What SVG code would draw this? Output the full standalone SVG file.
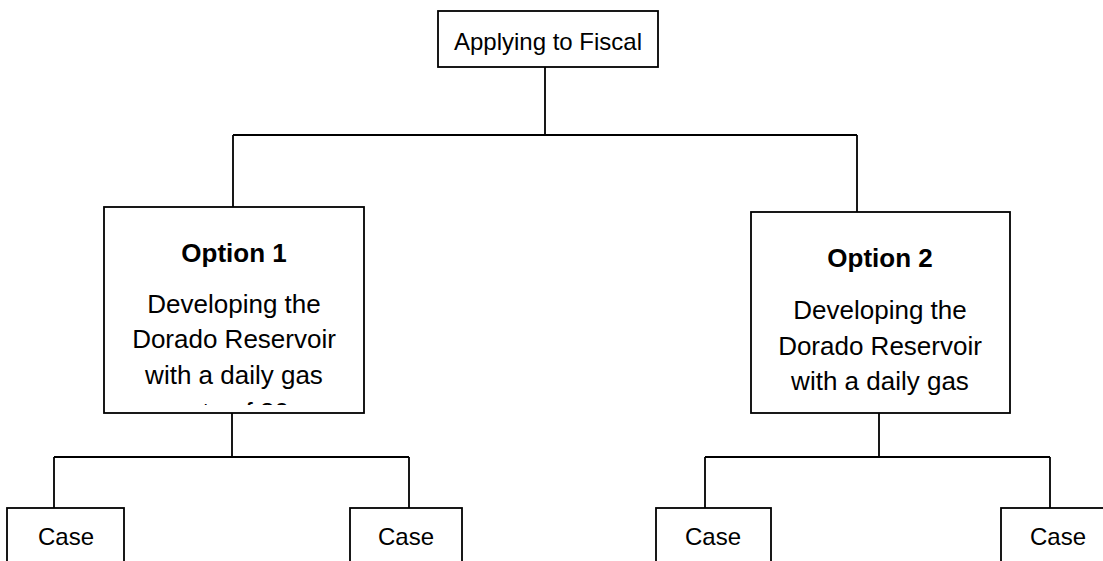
<svg xmlns="http://www.w3.org/2000/svg" width="1103" height="561" viewBox="0 0 1103 561">
<style>
.box{fill:#fff;stroke:#000;stroke-width:1.8}
.ln{fill:none;stroke:#000;stroke-width:1.8}
.t{font-family:"Liberation Sans",Arial,sans-serif;font-size:26px;fill:#000;text-anchor:middle}
.s{font-size:24px}
.b{font-weight:bold}
</style>
<defs>
<clipPath id="c1"><rect x="105" y="208" width="258" height="197"/></clipPath>
</defs>
<rect width="1103" height="561" fill="#fff"/>
<g id="connectors">
<path class="ln" d="M545 67V135M233 135H857M233 135V207M857 135V212"/>
<path class="ln" d="M232 413V457M54 457H409M54 457V508M409 457V508"/>
<path class="ln" d="M879 413V457M705 457H1050M705 457V508M1050 457V508"/>
</g>
<g id="root">
<rect class="box" x="438" y="11" width="220" height="56"/>
<text class="t s" x="548" y="50">Applying to Fiscal</text>
</g>
<g id="option1">
<rect class="box" x="104" y="207" width="260" height="206"/>
<text class="t b" x="234" y="262">Option 1</text>
<text class="t" x="234" y="313">Developing the</text>
<text class="t" x="234" y="348">Dorado Reservoir</text>
<text class="t" x="234" y="384">with a daily gas</text>
<text class="t" x="234" y="421" clip-path="url(#c1)">rate of 80</text>
</g>
<g id="option2">
<rect class="box" x="751" y="212" width="259" height="201"/>
<text class="t b" x="880" y="267">Option 2</text>
<text class="t" x="880" y="319">Developing the</text>
<text class="t" x="880" y="355">Dorado Reservoir</text>
<text class="t" x="880" y="390">with a daily gas</text>
</g>
<g id="case1">
<rect class="box" x="7" y="508" width="117" height="70"/>
<text class="t s" x="66" y="545">Case</text>
</g>
<g id="case2">
<rect class="box" x="350" y="508" width="112" height="70"/>
<text class="t s" x="406" y="545">Case</text>
</g>
<g id="case3">
<rect class="box" x="656" y="508" width="115" height="70"/>
<text class="t s" x="713" y="545">Case</text>
</g>
<g id="case4">
<rect class="box" x="1001" y="508" width="115" height="70"/>
<text class="t s" x="1058" y="545">Case</text>
</g>
</svg>
